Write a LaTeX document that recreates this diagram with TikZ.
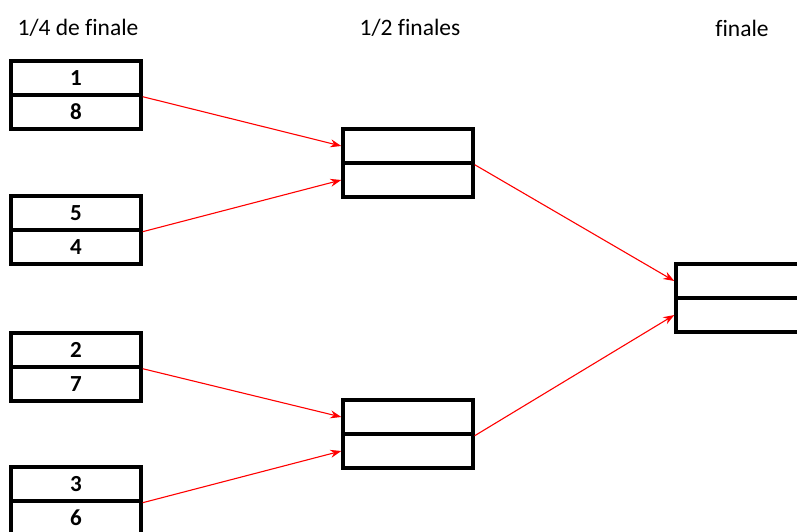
\documentclass[tikz,border=0pt]{standalone}
\usepackage{fontspec}
\setmainfont{Carlito}[Ligatures=CommonOff]
\usetikzlibrary{arrows.meta}

\begin{document}
\begin{tikzpicture}[x=1pt, y=-1pt, font=\fontsize{23.5}{26}\selectfont]

	% ---------- Helper styles ----------
	\tikzset{
		cell/.style={draw, line width=3.4pt, minimum width=130pt, minimum height=34pt, inner sep=0pt, font=\fontsize{23}{26}\selectfont\bfseries},
		title/.style={anchor=center},
		link/.style={draw=red, line width=1.1pt, -{Stealth[length=11pt, width=8pt, fill=red]}}
	}

	% ---------- Frame ----------
	\clip (0,0) rectangle (797,532);
	\fill[white] (0,0) rectangle (797,532);

	% ---------- Titles ----------
	\node[title] (t1) at (78,28) {1/4 de finale};
	\node[title] (t2) at (410,28) {1/2 finales};
	\node[title] (t3) at (742,28) {finale};

	% ---------- Quarter finals (left) ----------
	\foreach \i/\top/\a/\b in {1/61/1/8, 2/196/5/4, 3/333/2/7, 4/467/3/6} {
		\node[cell] (Q\i-a) at (76,\top+17) {\a};
		\node[cell] (Q\i-b) at (76,\top+51) {\b};
	}

	% ---------- Semi finals (middle) ----------
	\foreach \j/\top in {1/129, 2/400} {
		\node[cell] (S\j-a) at (408,\top+17) {};
		\node[cell] (S\j-b) at (408,\top+51) {};
	}

	% ---------- Final (right) ----------
	\node[cell] (F-a) at (741,281) {};
	\node[cell] (F-b) at (741,315) {};

	% ---------- Arrows ----------
	\draw[link] (Q1-a.south east) -- (S1-a.west);
	\draw[link] (Q2-a.south east) -- (S1-b.west);
	\draw[link] (Q3-a.south east) -- (S2-a.west);
	\draw[link] (Q4-a.south east) -- (S2-b.west);
	\draw[link] (S1-a.south east) -- (F-a.west);
	\draw[link] (S2-a.south east) -- (F-b.west);

\end{tikzpicture}
\end{document}
